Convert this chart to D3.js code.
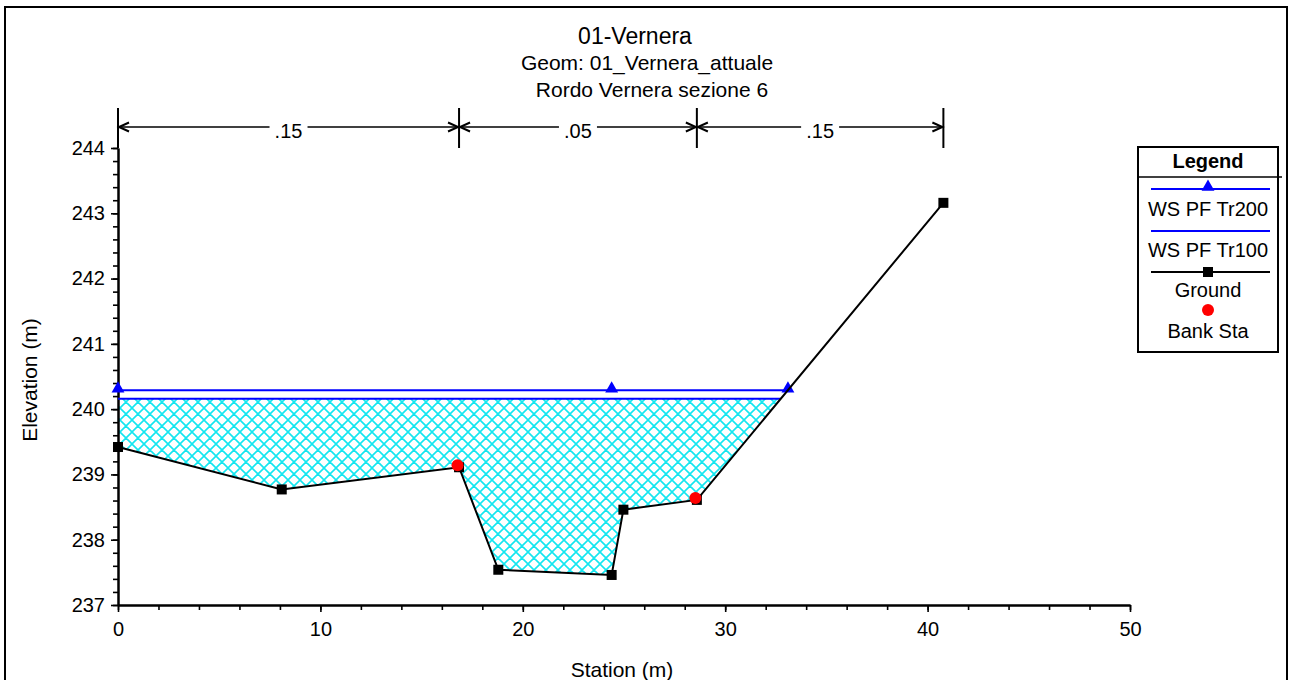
<!DOCTYPE html>
<html>
<head>
<meta charset="utf-8">
<script src="https://cdn.jsdelivr.net/npm/d3@7"></script>
<style>
  body { margin: 0; background: #fff; }
  svg text { font-family: "Liberation Sans", Arial, sans-serif; fill: #000; }
</style>
</head>
<body>
<svg id="chart" width="1290" height="680"></svg>
<script>
// cross section data
var groundSta = [0, 8.09, 16.85, 18.79, 24.39, 24.97, 28.6, 40.78];
var groundElev = [239.42, 238.77, 239.11, 237.54, 237.46, 238.46, 238.61, 243.16];
var bankSta = [16.85, 28.6];
var bankElev = [239.11, 238.61];
var ws200Sta = [0, 24.39, 33.1];
var ws200Elev = 240.29;
var ws100Sta = [0, 32.75];
var ws100Elev = 240.16;
var manningN = [".15", ".05", ".15"];
var xTicks = [0, 10, 20, 30, 40, 50];
var yTicks = [237, 238, 239, 240, 241, 242, 243, 244];

var svg = d3.select("#chart");

var x = d3.scaleLinear().domain([0, 50]).range([118, 1130]);
var y = d3.scaleLinear().domain([237, 244]).range([605, 148]);

// cross hatch pattern for the wetted area
var defs = svg.append("defs");
var pat = defs.append("pattern")
  .attr("id", "hatch")
  .attr("patternUnits", "userSpaceOnUse")
  .attr("width", 12).attr("height", 12);
pat.append("path")
  .attr("d", "M0,0 L12,12 M12,0 L0,12 M-6,6 L6,-6 M6,18 L18,6 M-6,6 L6,18 M6,-6 L18,6")
  .attr("stroke", "#14e6f0")
  .attr("stroke-width", 1.6)
  .attr("fill", "none");

// outer frame
svg.append("rect")
  .attr("x", 5).attr("y", 7)
  .attr("width", 1282).attr("height", 700)
  .attr("fill", "none").attr("stroke", "#000").attr("stroke-width", 2);

// titles
svg.append("text").attr("x", 635).attr("y", 44).attr("text-anchor", "middle")
  .style("font-size", "23px").text("01-Vernera");
svg.append("text").attr("x", 647).attr("y", 70).attr("text-anchor", "middle")
  .style("font-size", "21px").text("Geom: 01_Vernera_attuale");
svg.append("text").attr("x", 652).attr("y", 97).attr("text-anchor", "middle")
  .style("font-size", "21px").text("Rordo Vernera sezione 6");

// water area (WS Tr100 over ground)
var pts = [];
for (var i = 0; i < groundSta.length; i++) {
  if (groundSta[i] <= ws100Sta[1]) pts.push([groundSta[i], groundElev[i]]);
}
pts.push([ws100Sta[1], ws100Elev]);
pts.push([ws100Sta[0], ws100Elev]);
svg.append("path")
  .attr("d", d3.line().x(function(d) { return x(d[0]); }).y(function(d) { return y(d[1]); })(pts) + "Z")
  .attr("fill", "url(#hatch)");

// axes
var xAxis = svg.append("g").attr("transform", "translate(0," + y(237) + ")");
xAxis.call(d3.axisBottom(x).tickValues(d3.range(0, 51, 2)).tickSize(5).tickFormat("").tickSizeOuter(0));
xAxis.append("g").call(d3.axisBottom(x).tickValues(xTicks).tickSize(7).tickSizeOuter(0).tickFormat(d3.format("d")));
var yAxis = svg.append("g").attr("transform", "translate(" + x(0) + ",0)");
yAxis.call(d3.axisLeft(y).tickValues(d3.range(237, 244.01, 0.2)).tickSize(5).tickFormat("").tickSizeOuter(0));
yAxis.append("g").call(d3.axisLeft(y).tickValues(yTicks).tickSize(7).tickSizeOuter(0).tickPadding(6).tickFormat(d3.format("d")));
svg.selectAll(".domain").attr("stroke-width", 2);
svg.selectAll(".tick line").attr("stroke-width", 1.6);
svg.selectAll(".tick text").style("font-size", "20px").style("font-family", "Liberation Sans, Arial, sans-serif");
xAxis.selectAll(".tick text").attr("dy", "1.05em");

svg.append("text").attr("x", 622).attr("y", 677).attr("text-anchor", "middle")
  .style("font-size", "21px").text("Station (m)");
svg.append("text").attr("transform", "translate(37,380) rotate(-90)").attr("text-anchor", "middle")
  .style("font-size", "21px").text("Elevation (m)");

// manning n dimension arrows
var edges = [groundSta[0], bankSta[0], bankSta[1], groundSta[groundSta.length - 1]];
var arrowY = 127;
var dim = svg.append("g").attr("stroke", "#000").attr("fill", "none");
edges.forEach(function(s) {
  dim.append("line").attr("x1", x(s)).attr("x2", x(s)).attr("y1", 108).attr("y2", 148).attr("stroke-width", 2);
});
dim.append("line").attr("x1", x(edges[0])).attr("x2", x(edges[3])).attr("y1", arrowY).attr("y2", arrowY).attr("stroke-width", 1.6);
for (var k = 0; k < manningN.length; k++) {
  var a = x(edges[k]) + 1, b = x(edges[k + 1]) - 1;
  dim.append("path").attr("d", "M" + (a + 10) + "," + (arrowY - 4.5) + " L" + a + "," + arrowY + " L" + (a + 10) + "," + (arrowY + 4.5)).attr("stroke-width", 2);
  dim.append("path").attr("d", "M" + (b - 10) + "," + (arrowY - 4.5) + " L" + b + "," + arrowY + " L" + (b - 10) + "," + (arrowY + 4.5)).attr("stroke-width", 2);
  var mid = (x(edges[k]) + x(edges[k + 1])) / 2;
  svg.append("rect").attr("x", mid - 19).attr("y", arrowY - 6).attr("width", 38).attr("height", 12).attr("fill", "#fff");
  svg.append("text").attr("x", mid).attr("y", 138).attr("text-anchor", "middle")
    .style("font-size", "20px").text(manningN[k]);
}

// water surface lines
svg.append("line").attr("x1", x(ws200Sta[0])).attr("x2", x(ws200Sta[ws200Sta.length - 1]))
  .attr("y1", y(ws200Elev)).attr("y2", y(ws200Elev)).attr("stroke", "#0000ff").attr("stroke-width", 2);
svg.append("line").attr("x1", x(ws100Sta[0])).attr("x2", x(ws100Sta[1]))
  .attr("y1", y(ws100Elev)).attr("y2", y(ws100Elev)).attr("stroke", "#0000ff").attr("stroke-width", 2);

var tri = d3.symbol().type(d3.symbolTriangle).size(72);
svg.selectAll(".ws200").data(ws200Sta).enter().append("path")
  .attr("class", "ws200")
  .attr("d", tri)
  .attr("transform", function(d) { return "translate(" + x(d) + "," + (y(ws200Elev) - 1.5) + ")"; })
  .attr("fill", "#0000ff");

// ground
var gdata = groundSta.map(function(s, i) { return [s, groundElev[i]]; });
svg.append("path")
  .attr("d", d3.line().x(function(d) { return x(d[0]); }).y(function(d) { return y(d[1]); })(gdata))
  .attr("fill", "none").attr("stroke", "#000").attr("stroke-width", 2);
svg.selectAll(".gpt").data(gdata).enter().append("rect")
  .attr("class", "gpt")
  .attr("x", function(d) { return x(d[0]) - 5; })
  .attr("y", function(d) { return y(d[1]) - 5; })
  .attr("width", 10).attr("height", 10).attr("fill", "#000");

// bank stations
svg.selectAll(".bank").data(bankSta).enter().append("circle")
  .attr("class", "bank")
  .attr("cx", function(d) { return x(d) - 1.5; })
  .attr("cy", function(d, i) { return y(bankElev[i]) - 2; })
  .attr("r", 6).attr("fill", "#ff0000");

// legend
var lg = svg.append("g");
var lx0 = 1138, lx1 = 1278, lcx = 1208;
lg.append("rect").attr("x", lx0).attr("y", 147).attr("width", lx1 - lx0).attr("height", 205)
  .attr("fill", "#fff").attr("stroke", "#000").attr("stroke-width", 2);
lg.append("line").attr("x1", lx0).attr("x2", 1282).attr("y1", 177).attr("y2", 177).attr("stroke", "#000").attr("stroke-width", 1.5);
lg.append("text").attr("x", lcx).attr("y", 168).attr("text-anchor", "middle")
  .style("font-size", "20px").style("font-weight", "bold").text("Legend");
lg.append("line").attr("x1", 1151).attr("x2", 1270).attr("y1", 189).attr("y2", 189).attr("stroke", "#0000ff").attr("stroke-width", 2);
lg.append("path").attr("d", tri).attr("transform", "translate(" + lcx + ",187)").attr("fill", "#0000ff");
lg.append("text").attr("x", lcx).attr("y", 216).attr("text-anchor", "middle").style("font-size", "20px").text("WS PF Tr200");
lg.append("line").attr("x1", 1151).attr("x2", 1270).attr("y1", 231).attr("y2", 231).attr("stroke", "#0000ff").attr("stroke-width", 2);
lg.append("text").attr("x", lcx).attr("y", 257).attr("text-anchor", "middle").style("font-size", "20px").text("WS PF Tr100");
lg.append("line").attr("x1", 1151).attr("x2", 1270).attr("y1", 272).attr("y2", 272).attr("stroke", "#000").attr("stroke-width", 2);
lg.append("rect").attr("x", lcx - 5).attr("y", 267).attr("width", 10).attr("height", 10).attr("fill", "#000");
lg.append("text").attr("x", lcx).attr("y", 297).attr("text-anchor", "middle").style("font-size", "20px").text("Ground");
lg.append("circle").attr("cx", lcx).attr("cy", 310).attr("r", 6).attr("fill", "#ff0000");
lg.append("text").attr("x", lcx).attr("y", 338).attr("text-anchor", "middle").style("font-size", "20px").text("Bank Sta");
</script>
</body>
</html>
